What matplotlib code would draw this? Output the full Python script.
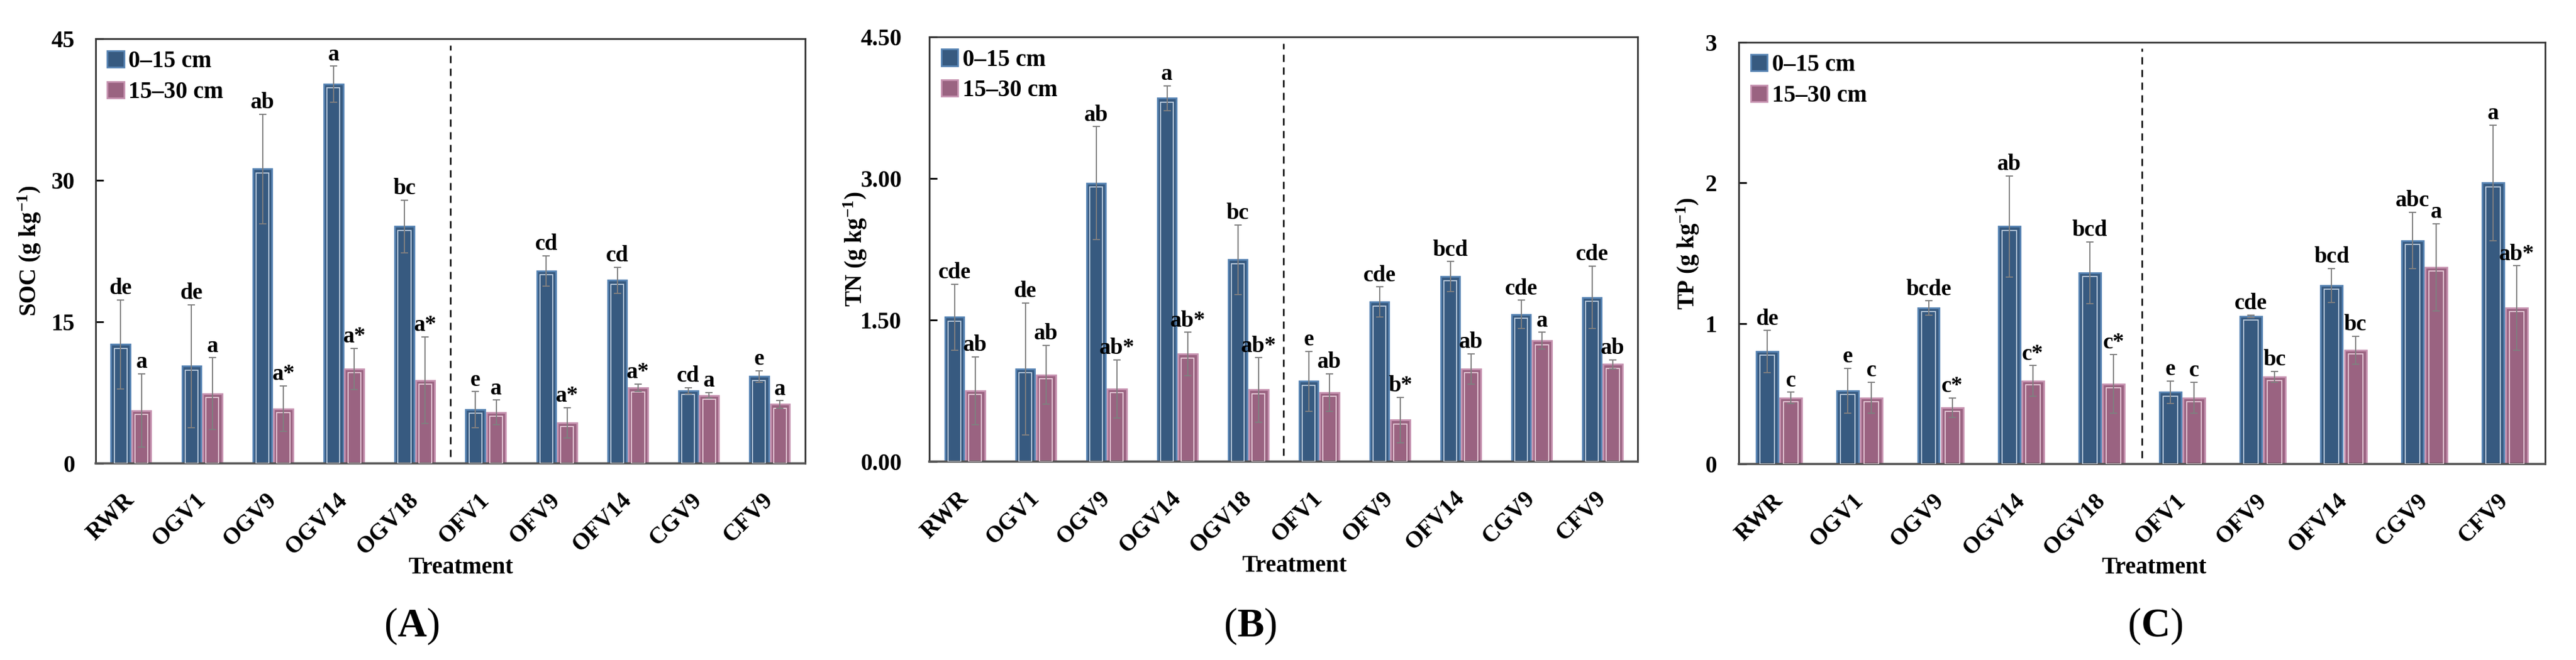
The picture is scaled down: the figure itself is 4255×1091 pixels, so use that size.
import numpy as np
import matplotlib
matplotlib.use('Agg')
import matplotlib.pyplot as plt
from matplotlib.patches import Patch

#fonts (Times-like)
plt.rcParams['font.family'] = ['Liberation Serif', 'DejaVu Serif']
plt.rcParams['font.weight'] = 'bold'
plt.rcParams['mathtext.fontset'] = 'custom'
plt.rcParams['mathtext.rm'] = 'Liberation Serif'
plt.rcParams['mathtext.bf'] = 'Liberation Serif:bold'
plt.rcParams['mathtext.it'] = 'Liberation Serif:italic'

#data
treatments = ['RWR', 'OGV1', 'OGV9', 'OGV14', 'OGV18', 'OFV1', 'OFV9', 'OFV14', 'CGV9', 'CFV9']

soc_top = [12.6, 10.3, 31.2, 40.2, 25.1, 5.7, 20.4, 19.4, 7.7, 9.2]
soc_top_err = [4.7, 6.5, 5.8, 1.9, 2.8, 1.9, 1.6, 1.4, 0.3, 0.6]
soc_sub = [5.6, 7.4, 5.8, 10.0, 8.8, 5.4, 4.3, 8.0, 7.2, 6.25]
soc_sub_err = [3.9, 3.8, 2.4, 2.2, 4.6, 1.3, 1.6, 0.4, 0.3, 0.4]
soc_top_lab = ['de', 'de', 'ab', 'a', 'bc', 'e', 'cd', 'cd', 'cd', 'e']
soc_sub_lab = ['a', 'a', 'a*', 'a*', 'a*', 'a', 'a*', 'a*', 'a', 'a']

tn_top = [1.53, 0.98, 2.95, 3.85, 2.14, 0.85, 1.69, 1.96, 1.56, 1.74]
tn_top_err = [0.35, 0.70, 0.60, 0.13, 0.37, 0.32, 0.16, 0.16, 0.15, 0.33]
tn_sub = [0.75, 0.92, 0.77, 1.14, 0.76, 0.73, 0.44, 0.98, 1.28, 1.03]
tn_sub_err = [0.36, 0.31, 0.31, 0.23, 0.34, 0.20, 0.24, 0.16, 0.09, 0.05]
tn_top_lab = ['cde', 'de', 'ab', 'a', 'bc', 'e', 'cde', 'bcd', 'cde', 'cde']
tn_sub_lab = ['ab', 'ab', 'ab*', 'ab*', 'ab*', 'ab', 'b*', 'ab', 'a', 'ab']

tp_top = [0.80, 0.52, 1.11, 1.69, 1.36, 0.51, 1.05, 1.27, 1.59, 2.00]
tp_top_err = [0.15, 0.16, 0.05, 0.36, 0.22, 0.08, 0.01, 0.12, 0.20, 0.41]
tp_sub = [0.47, 0.47, 0.40, 0.59, 0.57, 0.47, 0.62, 0.81, 1.40, 1.11]
tp_sub_err = [0.04, 0.11, 0.07, 0.11, 0.21, 0.11, 0.04, 0.10, 0.31, 0.30]
tp_top_lab = ['de', 'e', 'bcde', 'ab', 'bcd', 'e', 'cde', 'bcd', 'abc', 'a']
tp_sub_lab = ['c', 'c', 'c*', 'c*', 'c*', 'c', 'bc', 'bc', 'a', 'ab*']

depth_labels = ['0\u201315 cm', '15\u201330 cm']

#colors
blue_fill, blue_edge, blue_inner = '#375a80', '#5683b3', '#c9d6e6'
pink_fill, pink_edge, pink_inner = '#9a6381', '#c692b0', '#ecd3df'

fig = plt.figure(figsize=(42.55, 10.91), dpi=100)

#axes positions [left, bottom, width, height] in figure fraction
positions = [[0.0371, 0.2979, 0.2754, 0.6434],
             [0.3608, 0.3006, 0.2750, 0.6434],
             [0.6750, 0.2970, 0.3130, 0.6389]]

panels = [
    (soc_top, soc_top_err, soc_sub, soc_sub_err, soc_top_lab, soc_sub_lab,
     45, [0, 15, 30, 45], '{:.0f}', r'SOC (g kg$^{\mathbf{-1}}$)', 24.5, -0.074, '(A)'),
    (tn_top, tn_top_err, tn_sub, tn_sub_err, tn_top_lab, tn_sub_lab,
     4.5, [0, 1.5, 3.0, 4.5], '{:.2f}', r'TN (g kg$^{\mathbf{-1}}$)', 33, -0.0855, '(B)'),
    (tp_top, tp_top_err, tp_sub, tp_sub_err, tp_top_lab, tp_sub_lab,
     3, [0, 1, 2, 3], '{:.0f}', r'TP (g kg$^{\mathbf{-1}}$)', 26, -0.047, '(C)'),
]
panel_label_x = [680 / 4255, 2065 / 4255, 3560 / 4255]

x = np.arange(len(treatments))
w = 0.27
off = 0.147

for i, (top, top_err, sub, sub_err, top_lab, sub_lab, ymax, yt, fmt, ylab, ypad, ylab_x, plab) in enumerate(panels):
    ax = fig.add_axes(positions[i])
    ax.set_xlim(-0.5, len(treatments) - 0.5)
    ax.set_ylim(0, ymax)

    top = np.array(top)
    sub = np.array(sub)
    inset_y = ymax * 0.009

    #outer bars
    ax.bar(x - off, top, w, color=blue_fill, edgecolor=blue_edge, linewidth=2, zorder=2)
    ax.bar(x + off, sub, w, color=pink_fill, edgecolor=pink_edge, linewidth=2, zorder=2)
    #thin light inner outline
    ax.bar(x - off, top - inset_y, w - 0.09, fill=False, edgecolor=blue_inner, linewidth=1.2, zorder=3)
    ax.bar(x + off, sub - inset_y, w - 0.09, fill=False, edgecolor=pink_inner, linewidth=1.2, zorder=3)

    #error bars
    ax.errorbar(x - off, top, yerr=top_err, fmt='none', ecolor='#808080',
                elinewidth=1.4, capsize=4, capthick=1.4, zorder=4)
    ax.errorbar(x + off, sub, yerr=sub_err, fmt='none', ecolor='#808080',
                elinewidth=1.4, capsize=4, capthick=1.4, zorder=4)

    #significance letters
    for j in range(len(treatments)):
        ax.annotate(top_lab[j], (x[j] - off, top[j] + top_err[j]), xytext=(0, 7),
                    textcoords='offset points', ha='center', va='baseline',
                    fontsize=27, fontweight='bold')
        ax.annotate(sub_lab[j], (x[j] + off, sub[j] + sub_err[j]), xytext=(0, 7),
                    textcoords='offset points', ha='center', va='baseline',
                    fontsize=27, fontweight='bold')

    #dashed separator
    ax.axvline(4.5, ymin=0.015, ymax=0.985, color='k', linewidth=1.8,
               linestyle=(0, (4.8, 3.6)), zorder=1)

    #axes style
    for s in ['top', 'right', 'left']:
        ax.spines[s].set_linewidth(2)
        ax.spines[s].set_color('#333333')
    ax.spines['bottom'].set_linewidth(2.6)
    ax.spines['bottom'].set_color('#555555')

    ax.set_yticks(yt)
    ax.yaxis.set_major_formatter(plt.FuncFormatter(lambda v, p, f=fmt: f.format(v)))
    ax.tick_params(axis='y', direction='in', length=9, width=2, pad=ypad, labelsize=28)
    ax.set_xticks(x)
    ax.set_xticklabels(treatments, rotation=45, ha='right', va='center',
                       rotation_mode='anchor', fontsize=28, fontweight='bold')
    ax.tick_params(axis='x', length=0, pad=40)

    ax.set_ylabel(ylab, fontsize=28, fontweight='bold')
    ax.yaxis.set_label_coords(ylab_x, 0.5)
    ax.set_xlabel('Treatment', fontsize=28, fontweight='bold')
    ax.xaxis.set_label_coords(0.515, -0.22)

    #legend
    handles = [Patch(facecolor=blue_fill, edgecolor=blue_edge, linewidth=2),
               Patch(facecolor=pink_fill, edgecolor=pink_edge, linewidth=2)]
    ax.legend(handles, depth_labels, loc='upper left', frameon=False, fontsize=28,
              handlelength=0.7, handleheight=0.7, handletextpad=0.2,
              labelspacing=0.35, borderaxespad=0.3, borderpad=0.2)

    #panel label
    fig.text(panel_label_x[i], 1 - 1035 / 1091, r'(${\mathbf{' + plab[1] + '}}$)',
             ha='center', va='center', fontsize=48, fontweight='normal')

fig.savefig('out.png', dpi=100)
